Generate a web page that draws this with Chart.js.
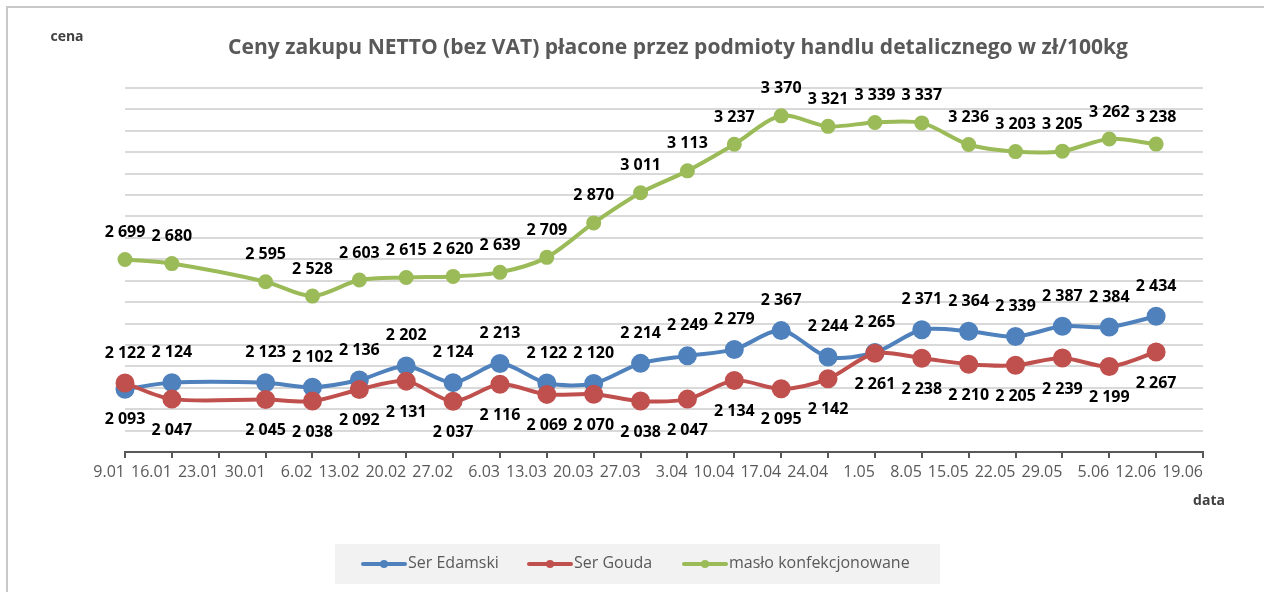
<!DOCTYPE html>
<html>
<head>
<meta charset="utf-8">
<script src="https://cdn.jsdelivr.net/npm/chart.js@4.4.1/dist/chart.umd.min.js"></script>
<style>
  html, body { margin: 0; padding: 0; background: #fff; }
  #wrap { width: 1264px; height: 592px; position: relative; }
</style>
</head>
<body>
<div id="wrap"><canvas id="chartCeny" width="1264" height="592"></canvas></div>
<script>
    // DATA
    const dates = ["9.01", "16.01", "23.01", "30.01", "6.02", "13.02", "20.02", "27.02", "6.03", "13.03", "20.03", "27.03",
      "3.04", "10.04", "17.04", "24.04", "1.05", "8.05", "15.05", "22.05", "29.05", "5.06", "12.06", "19.06"];
    const serEdamski = [2093, 2124, null, 2123, 2102, 2136, 2202, 2124, 2213, 2122, 2120, 2214,
      2249, 2279, 2367, 2244, 2265, 2371, 2364, 2339, 2387, 2384, 2434, null];
    const serGouda = [2122, 2047, null, 2045, 2038, 2092, 2131, 2037, 2116, 2069, 2070, 2038,
      2047, 2134, 2095, 2142, 2261, 2238, 2210, 2205, 2239, 2199, 2267, null];
    const masloKonfekcjonowane = [2699, 2680, null, 2595, 2528, 2603, 2615, 2620, 2639, 2709, 2870, 3011,
      3113, 3237, 3370, 3321, 3339, 3337, 3236, 3203, 3205, 3262, 3238, null];
    const seriesNames = ["Ser Edamski", "Ser Gouda", "masło konfekcjonowane"];
    const yMin = 1800, yMax = 3500, yStep = 100;

    const BLUE = "#4f81bd", RED = "#c0504d", GREEN = "#9bbb59";
    const GRAY_TEXT = "#595959";

    const fmt = v => String(v).replace(/\B(?=(\d{3})+(?!\d))/g, " ");

    // labels above/below points, plus frame, title and legend
    const decorations = {
      id: "decorations",
      beforeDraw(chart) {
        const ctx = chart.ctx;
        ctx.save();
        ctx.strokeStyle = "#c8c8c8";
        ctx.lineWidth = 2;
        ctx.strokeRect(7, 7, 1300, 700);
        ctx.restore();
      },
      afterDatasetsDraw(chart) {
        const ctx = chart.ctx;
        ctx.save();
        ctx.font = "bold 16px 'Open Sans'";
        ctx.fillStyle = "#000";
        ctx.textAlign = "center";
        ctx.textBaseline = "middle";
        const blueMeta = chart.getDatasetMeta(0);
        const redMeta = chart.getDatasetMeta(1);
        const greenMeta = chart.getDatasetMeta(2);
        dates.forEach((d, i) => {
          const b = serEdamski[i], r = serGouda[i], g = masloKonfekcjonowane[i];
          if (g != null) {
            const p = greenMeta.data[i];
            ctx.fillText(fmt(g), p.x, p.y - 27);
          }
          if (b != null && r != null) {
            const pb = blueMeta.data[i], pr = redMeta.data[i];
            const blueUp = b >= r;
            ctx.fillText(fmt(b), pb.x, pb.y + (blueUp ? -30 : 30));
            ctx.fillText(fmt(r), pr.x, pr.y + (blueUp ? 31 : -30));
          }
        });
        ctx.restore();
      },
      afterDraw(chart) {
        const ctx = chart.ctx;
        ctx.save();
        // title
        const title = "Ceny zakupu NETTO (bez VAT) płacone przez podmioty handlu detalicznego w zł/100kg";
        ctx.font = "bold 20px 'Open Sans'";
        const w = ctx.measureText(title).width;
        const size = 20 * 900 / w;
        ctx.font = "bold " + size.toFixed(2) + "px 'Open Sans'";
        ctx.fillStyle = GRAY_TEXT;
        ctx.textAlign = "center";
        ctx.textBaseline = "middle";
        ctx.fillText(title, 678, 48);

        // axis names
        ctx.fillStyle = "#404040";
        ctx.font = "bold 14px 'Open Sans'";
        ctx.fillText("cena", 67, 37);
        ctx.fillText("data", 1209, 501);

        // legend
        ctx.fillStyle = "#f2f2f2";
        ctx.fillRect(335, 544, 605, 40);
        const items = [
          { x: 363, color: BLUE, text: seriesNames[0] },
          { x: 529, color: RED, text: seriesNames[1] },
          { x: 684, color: GREEN, text: seriesNames[2] }
        ];
        ctx.font = "16px 'Open Sans'";
        ctx.textAlign = "left";
        items.forEach(it => {
          ctx.strokeStyle = it.color;
          ctx.lineWidth = 4;
          ctx.lineCap = "round";
          ctx.beginPath();
          ctx.moveTo(it.x, 564);
          ctx.lineTo(it.x + 42, 564);
          ctx.stroke();
          ctx.fillStyle = it.color;
          ctx.beginPath();
          ctx.arc(it.x + 21, 564, 4, 0, Math.PI * 2);
          ctx.fill();
          ctx.fillStyle = GRAY_TEXT;
          ctx.fillText(it.text, it.x + 45, 563);
        });
        ctx.restore();
      }
    };

    new Chart(document.getElementById("chartCeny"), {
      type: "line",
      data: {
        labels: dates,
        datasets: [{
          label: seriesNames[0],
          data: serEdamski,
          borderColor: BLUE,
          backgroundColor: BLUE,
          borderWidth: 4,
          pointRadius: 7.5,
          order: 1
        }, {
          label: seriesNames[1],
          data: serGouda,
          borderColor: RED,
          backgroundColor: RED,
          borderWidth: 4,
          pointRadius: 7.5,
          order: 0
        }, {
          label: seriesNames[2],
          data: masloKonfekcjonowane,
          borderColor: GREEN,
          backgroundColor: GREEN,
          borderWidth: 4,
          pointRadius: 5.5,
          order: 2
        }]
      },
      options: {
        responsive: false,
        devicePixelRatio: 1,
        animation: false,
        spanGaps: true,
        elements: { line: { tension: 0.3 }, point: { borderWidth: 0, hoverRadius: 7.5 } },
        layout: { padding: { left: 125, right: 61, top: 88, bottom: 100 } },
        plugins: {
          legend: { display: false },
          tooltip: { enabled: false }
        },
        scales: {
          x: {
            type: "category",
            offset: false,
            afterFit(scale) { scale.height = 40; },
            grid: { display: true, drawOnChartArea: false, drawTicks: true, tickLength: 6, color: GRAY_TEXT, lineWidth: 2 },
            border: { display: true, color: GRAY_TEXT, width: 2 },
            ticks: {
              align: "end",
              autoSkip: false,
              maxRotation: 0,
              padding: 5,
              color: GRAY_TEXT,
              font: { family: "'Open Sans'", size: 16 }
            }
          },
          y: {
            min: yMin,
            max: yMax,
            afterFit(scale) { scale.width = 0; },
            grid: { color: "#d9d9d9", lineWidth: 2, drawTicks: false },
            border: { display: false },
            ticks: { display: false, stepSize: yStep }
          }
        }
      },
      plugins: [decorations]
    });
</script>
</body>
</html>
